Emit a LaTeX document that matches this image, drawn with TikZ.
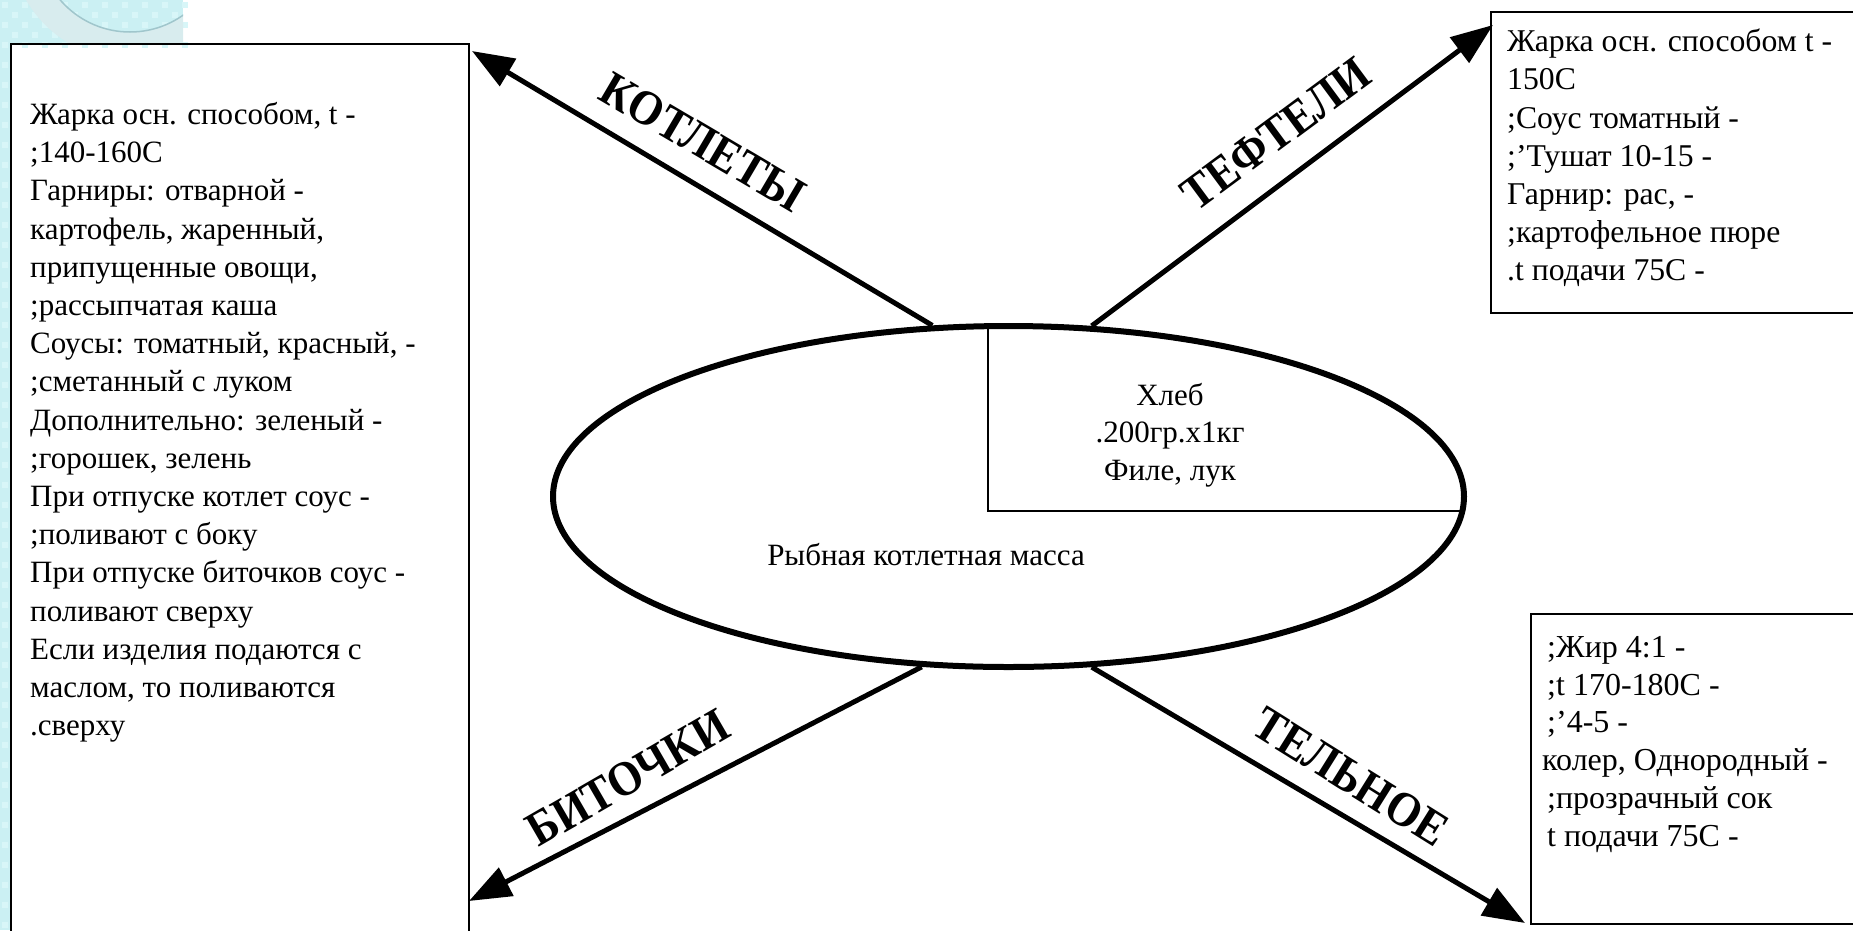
\documentclass[tikz,border=0pt]{standalone}
\usepackage{fontspec}
\setmainfont{Liberation Serif}
\newfontfamily\labelfont{Liberation Serif}[FakeStretch=0.9]
\usetikzlibrary{shapes.geometric,arrows.meta}
\definecolor{bgcyan}{RGB}{203,240,243}
\definecolor{bgdot}{RGB}{216,246,248}
\definecolor{bandcol}{RGB}{216,236,238}
\definecolor{ringcol}{RGB}{160,198,204}
\begin{document}
\begin{tikzpicture}[x=1pt,y=-1pt,
  box/.style={draw, line width=2.5pt, rectangle, inner sep=0pt, outer sep=0pt, anchor=north west},
  boxtext/.style={anchor=north west, inner sep=0pt, align=left},
  arr/.style={line width=5pt, -{Triangle[length=42pt,width=31pt]}},
  lab/.style={font=\fontsize{49}{49}\labelfont\bfseries, inner sep=0pt},
  inner/.style={line width=2.5pt},
  ]
\useasboundingbox (0,0) rectangle (1853,930);
\clip (0,0) rectangle (1853,930);
% background decoration
\fill[bgcyan] (0,0) rectangle (183,44);
\fill[bgcyan] (0,0) rectangle (11,930);
\foreach \i in {0,...,18}{\foreach \j in {0,...,4}{
  \pgfmathtruncatemacro{\k}{mod(\i+\j,2)}
  \ifnum\k=0 \fill[bgdot] (\i*10+2,\j*10+2) rectangle +(6,6);\fi}}
\foreach \j in {5,...,92}{
  \pgfmathtruncatemacro{\k}{mod(\j,2)}
  \ifnum\k=0 \fill[bgdot] (2,\j*10+2) rectangle +(6,6);\fi}
\begin{scope}
  \clip (0,0) rectangle (183,44);
  \fill[bandcol, even odd rule] (130,-60) circle (120pt) (130,-60) circle (92pt);
  \draw[ringcol, line width=1.5pt] (130,-60) circle (92pt);
\end{scope}
% boxes
\node[box, minimum width=458pt, minimum height=906pt] (lbox) at (11,44) {};
\node[box, minimum width=380pt, minimum height=301pt] (tbox) at (1491,12) {};
\node[box, minimum width=340pt, minimum height=310pt] (bbox) at (1531,614) {};
% box texts
\node[boxtext, font=\fontsize{31}{38.2}\selectfont] (ltxt) at (30,102) {Жарка осн. способом, t -\\;140-160C\\Гарниры: отварной -\\картофель, жаренный,\\припущенные овощи,\\;рассыпчатая каша\\Соусы: томатный, красный, -\\;сметанный с луком\\Дополнительно: зеленый -\\;горошек, зелень\\При отпуске котлет соус -\\;поливают с боку\\При отпуске биточков соус -\\поливают сверху\\Если изделия подаются с\\маслом, то поливаются\\.сверху};
\node[boxtext, font=\fontsize{31.7}{38.1}\selectfont] (ttxt) at (1507,29) {Жарка осн. способом t -\\150C\\;Соус томатный -\\;’Тушат 10-15 -\\Гарнир: рас, -\\;картофельное пюре\\.t подачи 75C -};
\node[boxtext, font=\fontsize{32}{37.8}\selectfont] (btxt) at (1542,636) {\hspace{5pt};Жир 4:1 -\\\hspace{5pt};t 170-180C -\\\hspace{5pt};’4-5 -\\колер, Однородный -\\\hspace{5pt};прозрачный сок\\\hspace{5pt}t подачи 75C -};
% central ellipse
\node[ellipse, draw, fill=white, line width=6pt, minimum width=911pt, minimum height=341pt, inner sep=0pt] (mass) at (1008.5,496.5) {};
\coordinate (v1) at (988,328);
\coordinate (v2) at (988,511);
\coordinate (v3) at (1461,511);
\draw[inner] (v1) -- (v2) -- (v3);
\node[font=\fontsize{31}{37.5}\selectfont, align=center] (ing) at (1170,435) {Хлеб\\.200гр.х1кг\\Филе, лук};
\node[font=\fontsize{31}{37.5}\selectfont] (name) at (926,555) {Рыбная котлетная масса};
% arrow ends
\coordinate (kt) at (472,51);
\coordinate (tt) at (1493,25);
\coordinate (bt) at (469,901);
\coordinate (nt) at (1525,923);
\draw[arr] (mass.114.9) -- (kt);
\draw[arr] (mass.64.2) -- (tt);
\draw[arr] (mass.243.9) -- (bt);
\draw[arr] (mass.296.9) -- (nt);
% labels
\node[lab, rotate=-30.5] (lk) at (703,142) {КОТЛЕТЫ};
\node[lab, rotate=36.5] (lt) at (1276,134) {ТЕФТЕЛИ};
\node[lab, rotate=30] (lb) at (628,778) {БИТОЧКИ};
\node[lab, rotate=-32] (ln) at (1351,777) {ТЕЛЬНОЕ};
\end{tikzpicture}
\end{document}
